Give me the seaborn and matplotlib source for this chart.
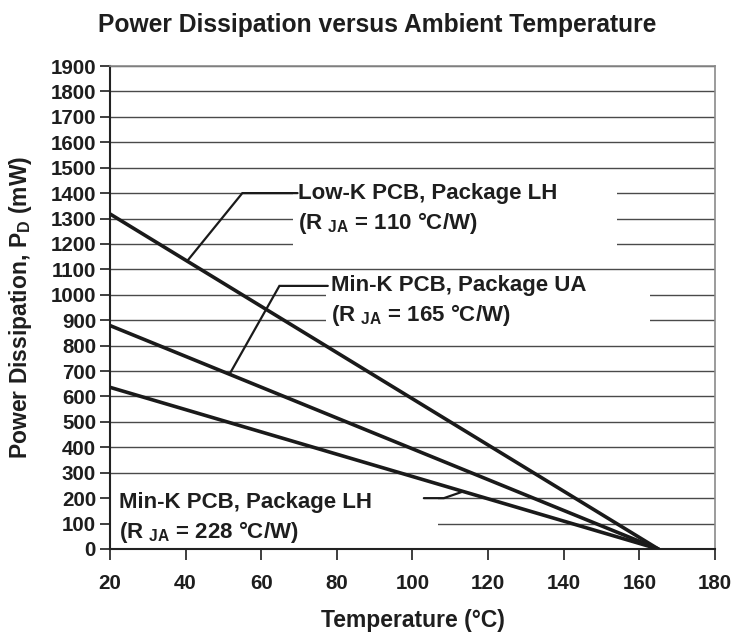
import numpy as np
import pandas as pd
import matplotlib
matplotlib.use("Agg")
import matplotlib.pyplot as plt
from matplotlib.patches import Rectangle
import seaborn as sns

# ---- data ----
temps = [20, 165]
pd_lowk_lh = [1318, 0]
pd_mink_ua = [879, 0]
pd_mink_lh = [636, 0]
series_names = ["Low-K PCB, Package LH", "Min-K PCB, Package UA", "Min-K PCB, Package LH"]
rja_values = ["110", "165", "228"]
x_ticks = list(range(20, 181, 20))
y_ticks = list(range(0, 1901, 100))

sns.set_theme(style="white")
plt.rcParams['font.family'] = ['Liberation Sans', 'DejaVu Sans']
plt.rcParams['font.weight'] = 'bold'
plt.rcParams['mathtext.fontset'] = 'custom'
plt.rcParams['mathtext.rm'] = 'Liberation Sans:bold'
plt.rcParams['mathtext.it'] = 'Liberation Sans:bold'
plt.rcParams['mathtext.bf'] = 'Liberation Sans:bold'
plt.rcParams['mathtext.default'] = 'rm'

TXT = '#1e1e1e'
df = pd.DataFrame({
    'Temperature': temps * 3,
    'Power': pd_lowk_lh + pd_mink_ua + pd_mink_lh,
    'series': [series_names[0]] * 2 + ['Min-K PCB, Package UA'] * 2 + ['Min-K PCB, Package LH (228)'] * 2,
})

fig = plt.figure(figsize=(7.32, 6.32), dpi=100)
ax = fig.add_axes([110/732, 1-549/632, 605/732, 483/632])

sns.lineplot(data=df, x='Temperature', y='Power', hue='series', units='series',
             estimator=None, palette=['#1a1a1a'] * 3, linewidth=2.6, legend=False,
             ax=ax, zorder=3)

ax.set_xlim(20, 180)
ax.set_ylim(0, 1900)
ax.set_xticks(x_ticks)
ax.set_yticks(y_ticks)
ax.tick_params(axis='both', labelsize=14.8, colors=TXT, direction='out')
ax.tick_params(axis='x', length=8, width=1.2, pad=10, bottom=True)
ax.tick_params(axis='y', length=7, width=1.2, pad=3, left=True)
for lab in ax.get_xticklabels() + ax.get_yticklabels():
    lab.set_fontweight('bold')

ax.grid(axis='y', color='#4a4a4a', linewidth=1.0)
ax.grid(axis='x', visible=False)
ax.set_axisbelow(True)

for s in ['left', 'bottom']:
    ax.spines[s].set_color('#222222')
    ax.spines[s].set_linewidth(1.5)
for s in ['top', 'right']:
    ax.spines[s].set_color('#8a8a8a')
    ax.spines[s].set_linewidth(1.2)

ax.set_xlabel('Temperature (°C)', fontsize=16.5, fontweight='bold', color=TXT)
ax.set_ylabel('Power Dissipation, P$_{D}$ (mW)', fontsize=16.5, fontweight='bold', color=TXT)
ax.xaxis.set_label_coords(0.5, -0.124)
ax.yaxis.set_label_coords(-0.125, 0.5)

fig.text(98/732, 1-32/632, 'Power Dissipation versus Ambient Temperature',
         fontsize=17.7, fontweight='bold', color=TXT, ha='left', va='baseline')

# ---- annotations ----
series_vals = [pd_lowk_lh, pd_mink_ua, pd_mink_lh]
# (text x, text y line1, box x0, box x1, box y0, box y1, elbow x, leader end x, target T)
layout = [
    (69.6, 1400, 68.3, 154.0, 1165, 1435, 55.0, 69.6, 40.4),
    (78.4, 1035, 77.0, 162.7, 850, 1018, 64.8, 77.6, 51.6),
    (22.4, 181, 20.3, 106.7, 30, 250, 108.3, 103.0, 113.4),
]
line_gap = 116
for name, rja, vals, (tx, ty, bx0, bx1, by0, by1, ex, lx, tT) in zip(
        series_names, rja_values, series_vals, layout):
    ax.add_patch(Rectangle((bx0, by0), bx1 - bx0, by1 - by0, facecolor='white',
                           edgecolor='none', zorder=1))
    ax.text(tx, ty, name, fontsize=16, fontweight='bold', color=TXT,
            ha='left', va='center', zorder=5)
    ax.text(tx, ty - line_gap, '(R $_{JA}$ = ' + rja + ' °C/W)', fontsize=16,
            fontweight='bold', color=TXT, ha='left', va='center', zorder=5)
    ly = ty if ty > 500 else 200
    tP = float(np.interp(tT, temps, vals))
    ax.plot([lx, ex, tT], [ly, ly, tP], color='#1a1a1a', linewidth=1.6, zorder=4,
            solid_joinstyle='miter')

fig.savefig('out.png', dpi=100)
